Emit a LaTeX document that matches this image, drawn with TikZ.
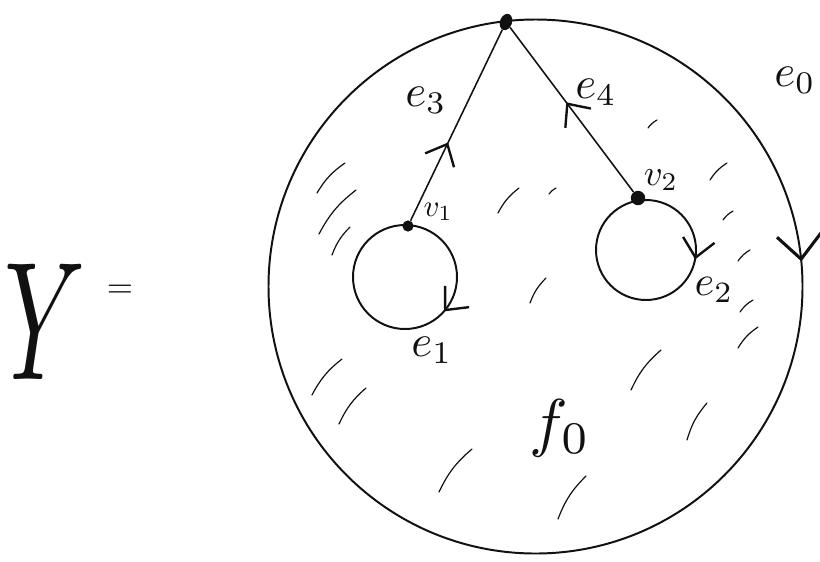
\documentclass[tikz,border=0pt]{standalone}
\usepackage{amsmath}
\usepackage{tikz}
\usetikzlibrary{arrows.meta,positioning,shapes.geometric,decorations.markings}
\definecolor{SketchInk}{HTML}{111111}
\newcommand{\sketchmath}[2]{\scalebox{#1}{$#2$}}
\tikzset{
  ink/.style={draw=SketchInk,line width=1.4pt},
  edgeink/.style={draw=SketchInk,line width=1.1pt},
  hatch/.style={draw=SketchInk,line width=0.85pt,line cap=round},
  vdot/.style={circle,fill=SketchInk,inner sep=0pt,minimum size=#1},
  smallbarb/.style={postaction={decorate},decoration={markings,mark=at position #1 with {\arrow[line width=1.7pt]{Straight Barb[length=4.5mm,width=8mm]}}}},
  bigbarb/.style={postaction={decorate},decoration={markings,mark=at position #1 with {\arrow[line width=2.2pt]{Straight Barb[length=6mm,width=11mm]}}}},
  lbl/.style={text=SketchInk,inner sep=1pt}
}
\begin{document}
\begin{tikzpicture}[x=0.025cm,y=-0.025cm]
\useasboundingbox (0,0) rectangle (820,561);
\node[lbl] (Ysp) at (45,322) {\scalebox{7.2}[12]{$Y$}};
\node[lbl] (eqs) at (120,291) {\sketchmath{2.4}{=}};
\coordinate (cdisk) at (535.5,286.5);
\coordinate (cone) at (405,277);
\coordinate (ctwo) at (646,250);
\draw[ink,bigbarb=0.985] (cdisk) circle[radius=267];
\draw[ink,smallbarb=0.115] (cone) circle[radius=52];
\draw[ink,smallbarb=0.03] (ctwo) circle[radius=50];
\node[ellipse,fill=SketchInk,inner sep=0pt,minimum width=0.3cm,minimum height=0.42cm,rotate=-20] (vtop) at (506,22) {};
\node[vdot=0.28cm] (vone) at (408,226) {};
\node[vdot=0.36cm] (vtwo) at (638,198) {};
\draw[edgeink,smallbarb=0.41] (vone) -- (vtop);
\draw[edgeink,smallbarb=0.545] (vtwo) -- (vtop);
\node[lbl] (lthree) at (426,100) {\sketchmath{3.2}{e_3}};
\node[lbl] (lfour) at (596,92) {\sketchmath{3.2}{e_4}};
\node[lbl] (lone) at (432,350) {\sketchmath{3.2}{e_1}};
\node[lbl] (ltwo) at (714,290) {\sketchmath{3.0}{e_2}};
\node[lbl] (lzero) at (795,80) {\sketchmath{3.2}{e_0}};
\node[lbl] (lvone) at (438,212) {\sketchmath{2.2}{v_1}};
\node[lbl] (lvtwo) at (661,180) {\sketchmath{2.6}{v_2}};
\node[lbl] (lface) at (560,428) {\sketchmath{4.6}{f_0}};
\foreach \ax/\ay/\bx/\by in {317/193/345/163, 319/234/356/190, 332/255/350/227,
  498/213/519/188, 549/194/556/188, 530/303/546/278, 648/128/657/120,
  710/180/727/163, 723/220/733/211, 738/261/750/250, 740/312/753/300,
  738/348/758/327, 631/390/661/350, 687/440/707/403, 312/395/342/359,
  339/424/366/388, 439/492/472/449, 558/519/586/476}
  \draw[hatch] (\ax,\ay) to[bend left=12] (\bx,\by);
\end{tikzpicture}
\end{document}
